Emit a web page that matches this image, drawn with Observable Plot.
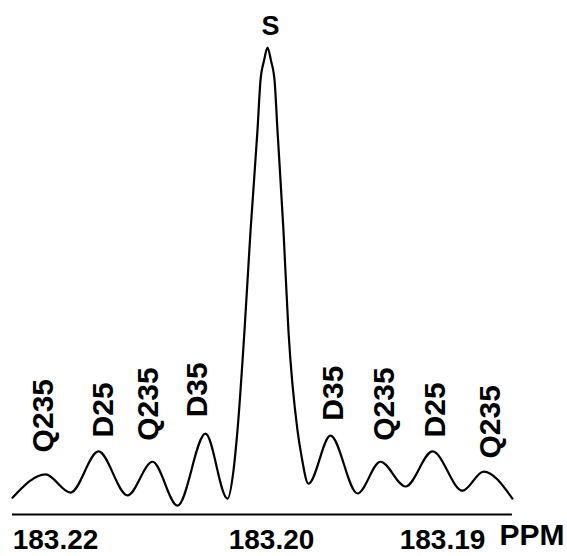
<!DOCTYPE html>
<html>
<head>
<meta charset="utf-8">
<script src="https://cdn.jsdelivr.net/npm/d3@7"></script>
<script src="https://cdn.jsdelivr.net/npm/@observablehq/plot@0.6"></script>
<style>
  html, body { margin: 0; padding: 0; background: #fff; }
</style>
</head>
<body>
<div id="chart"></div>
<script>
// Spectrum trace (chemical shift in ppm, relative intensity)
const shiftPpm = [
  183.22398, 183.22093, 183.21861, 183.21602, 183.21333, 183.21102, 183.20870, 183.20611,
  183.20407, 183.20352, 183.20315, 183.20250, 183.20194, 183.20130, 183.20102, 183.20069,
  183.20037, 183.20005, 183.19982, 183.19965, 183.19930, 183.19901, 183.19848, 183.19825,
  183.19784, 183.19655, 183.19497, 183.19363, 183.19216, 183.19058, 183.18883, 183.18760,
  183.18591
];
const intensity = [
  3.6, 8.6, 4.7, 13.5, 4.1, 11.3, 1.9, 17.3,
  3.4, 9.4, 18.0, 39.4, 60.8, 82.2, 92.9, 97.2,
  100, 97.2, 92.9, 82.2, 60.8, 39.4, 18.0, 12.6,
  6.6, 16.9, 4.5, 11.3, 6.0, 13.5, 5.1, 9.2,
  3.4
];

// Peak labels
const peakNames = ["Q235", "D25", "Q235", "D35", "D35", "Q235", "D25", "Q235"];
const peakPpm   = [183.2211, 183.2156, 183.2114, 183.2069, 183.1964, 183.1934, 183.1904, 183.1872];
const peakLevel = [13.3, 16.5, 15.8, 20.8, 20.1, 15.8, 16.5, 12.0];

const mainPeakName = ["S"];
const mainPeakPpm = [183.2001];
const mainPeakLevel = [104.5];

// Axis ticks
const xTicks = [183.22, 183.20, 183.19];
const xUnit = "PPM";

const trace = shiftPpm.map((p, i) => ({ppm: p, intensity: intensity[i]}));
const peaks = peakNames.map((n, i) => ({name: n, ppm: peakPpm[i], level: peakLevel[i]}));
const mainPeak = mainPeakName.map((n, i) => ({name: n, ppm: mainPeakPpm[i], level: mainPeakLevel[i]}));

const chart = Plot.plot({
  width: 567,
  height: 556,
  marginTop: 0,
  marginRight: 0,
  marginLeft: 0,
  marginBottom: 42,
  style: {
    fontFamily: "'Liberation Sans', Arial, Helvetica, sans-serif",
    fontWeight: "bold",
    background: "#fff",
    color: "#000"
  },
  x: {type: "linear", domain: [183.22, 183.20, 183.19], range: [55, 271, 442]},
  y: {domain: [0, 100], range: [514, 47], axis: null},
  marks: [
    Plot.ruleY([0], {
      x1: () => shiftPpm[0],
      x2: () => shiftPpm[shiftPpm.length - 1],
      stroke: "#000",
      strokeWidth: 2
    }),
    Plot.line(trace, {
      x: "ppm",
      y: "intensity",
      curve: "monotone-x",
      stroke: "#000",
      strokeWidth: 2.2
    }),
    Plot.text(peaks, {
      x: "ppm",
      y: "level",
      text: "name",
      rotate: -90,
      textAnchor: "start",
      lineAnchor: "middle",
      fontSize: 30,
      fill: "#000"
    }),
    Plot.text(mainPeak, {
      x: "ppm",
      y: "level",
      text: "name",
      textAnchor: "middle",
      lineAnchor: "middle",
      fontSize: 27,
      fill: "#000"
    }),
    Plot.axisX(xTicks, {
      anchor: "bottom",
      tickSize: 0,
      tickPadding: 15,
      fontSize: 28,
      tickFormat: d => d.toFixed(2),
      label: null,
      fill: "#000"
    }),
    Plot.text([xUnit], {
      frameAnchor: "bottom-right",
      textAnchor: "end",
      lineAnchor: "top",
      dx: -3,
      dy: 9,
      fontSize: 30,
      fill: "#000"
    })
  ]
});

document.getElementById("chart").appendChild(chart);
</script>
</body>
</html>
